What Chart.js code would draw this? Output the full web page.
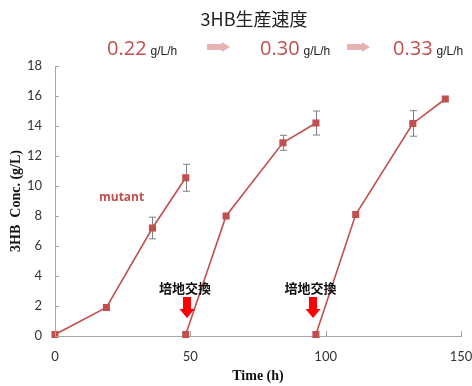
<!DOCTYPE html>
<html>
<head>
<meta charset="utf-8">
<script src="https://cdn.jsdelivr.net/npm/chart.js@4/dist/chart.umd.min.js"></script>
<style>
  html, body { margin: 0; padding: 0; background: #fff; }
  #wrap { width: 472px; height: 386px; }
</style>
</head>
<body>
<div id="wrap"><canvas id="c" width="472" height="386"></canvas></div>
<script>
// first culture
const run1Time = [0, 19, 36, 48.3];
const run1Conc = [0.1, 1.9, 7.2, 10.55];
const run1Err = [0, 0, 0.72, 0.9];
// after first medium exchange
const run2Time = [48.3, 63.2, 84.2, 96.4];
const run2Conc = [0.1, 8.0, 12.88, 14.2];
const run2Err = [0, 0, 0.5, 0.8];
// after second medium exchange
const run3Time = [96.4, 111.1, 132.2, 144.2];
const run3Conc = [0.1, 8.1, 14.17, 15.8];
const run3Err = [0, 0, 0.85, 0];

const rates = ['0.22', '0.30', '0.33'];
const rateUnit = 'g/L/h';
const chartTitle = '3HB生産速度';
const exchangeTimes = [48, 94.4];
const exchangeLabel = '培地交換';

const red = '#c0504d';
const axisGrey = '#a6a6a6';

function pts(xs, ys) { return xs.map((x, i) => ({x: x, y: ys[i]})); }

function lineSet(xs, ys, errs) {
  return {
    data: pts(xs, ys),
    errs: errs,
    showLine: true,
    borderColor: red,
    backgroundColor: red,
    borderWidth: 1.6,
    pointStyle: 'rect',
    pointRadius: 5,
    pointBorderWidth: 0,
    clip: false
  };
}

const errorBars = {
  id: 'errorBars',
  beforeDatasetsDraw(chart) {
    const ctx = chart.ctx, ys = chart.scales.y, xs = chart.scales.x;
    ctx.save();
    ctx.strokeStyle = '#7f7f7f';
    ctx.lineWidth = 1;
    chart.data.datasets.forEach(ds => {
      ds.data.forEach((p, i) => {
        const e = ds.errs[i];
        if (!e) return;
        const x = Math.round(xs.getPixelForValue(p.x)) + 0.5;
        const top = ys.getPixelForValue(p.y + e), bot = ys.getPixelForValue(p.y - e);
        ctx.beginPath();
        ctx.moveTo(x, top); ctx.lineTo(x, bot);
        ctx.moveTo(x - 3.5, top); ctx.lineTo(x + 3.5, top);
        ctx.moveTo(x - 3.5, bot); ctx.lineTo(x + 3.5, bot);
        ctx.stroke();
      });
    });
    ctx.restore();
  }
};

const extras = {
  id: 'extras',
  afterDraw(chart) {
    const ctx = chart.ctx, xs = chart.scales.x, ys = chart.scales.y;
    ctx.save();
    // inner tick marks
    ctx.strokeStyle = axisGrey;
    ctx.lineWidth = 1;
    ctx.beginPath();
    ys.ticks.forEach(t => {
      const y = Math.round(ys.getPixelForValue(t.value)) + 0.5;
      ctx.moveTo(xs.left, y); ctx.lineTo(xs.left + 4, y);
    });
    xs.ticks.forEach(t => {
      const x = Math.round(xs.getPixelForValue(t.value)) + 0.5;
      ctx.moveTo(x, ys.bottom); ctx.lineTo(x, ys.bottom - 5);
    });
    ctx.stroke();

    // header
    ctx.fillStyle = '#222';
    ctx.font = '18px "Noto Sans CJK JP"';
    ctx.textAlign = 'center';
    ctx.textBaseline = 'middle';
    ctx.fillText(chartTitle, 254, 19);

    ctx.textAlign = 'left';
    ctx.textBaseline = 'alphabetic';
    const numX = [107, 260, 393];
    rates.forEach((r, i) => {
      ctx.font = '20px "Open Sans"';
      ctx.fillStyle = red;
      ctx.fillText(r, numX[i], 55);
      const w = ctx.measureText(r).width;
      ctx.font = '12px "Liberation Sans"';
      ctx.fillStyle = '#222';
      ctx.fillText(rateUnit, numX[i] + w + 4, 55);
    });
    ctx.fillStyle = '#e6b3b3';
    [[207, 230], [347, 370]].forEach(([a, b]) => {
      ctx.beginPath();
      ctx.moveTo(a, 44); ctx.lineTo(b - 8, 44); ctx.lineTo(b - 8, 42);
      ctx.lineTo(b, 47); ctx.lineTo(b - 8, 52); ctx.lineTo(b - 8, 50);
      ctx.lineTo(a, 50); ctx.closePath(); ctx.fill();
    });

    // annotations
    ctx.textAlign = 'center';
    ctx.textBaseline = 'middle';
    ctx.font = 'bold 12px "Open Sans"';
    ctx.fillStyle = red;
    ctx.fillText('mutant', xs.getPixelForValue(24.6), ys.getPixelForValue(9.2));
    ctx.font = 'bold 13px "Noto Sans CJK JP"';
    const arrowX = [187, 313];
    exchangeTimes.forEach((t, i) => {
      ctx.fillStyle = '#111';
      ctx.fillText(exchangeLabel, xs.getPixelForValue(t), ys.getPixelForValue(3.2));
      const cx = arrowX[i];
      ctx.fillStyle = '#ff0000';
      ctx.beginPath();
      ctx.moveTo(cx - 4, 297); ctx.lineTo(cx + 4, 297); ctx.lineTo(cx + 4, 309);
      ctx.lineTo(cx + 7.5, 309); ctx.lineTo(cx, 318); ctx.lineTo(cx - 7.5, 309);
      ctx.lineTo(cx - 4, 309); ctx.closePath(); ctx.fill();
    });
    ctx.restore();
  }
};

new Chart(document.getElementById('c'), {
  type: 'scatter',
  data: {
    datasets: [
      lineSet(run1Time, run1Conc, run1Err),
      lineSet(run2Time, run2Conc, run2Err),
      lineSet(run3Time, run3Conc, run3Err)
    ]
  },
  options: {
    responsive: false,
    animation: false,
    layout: { padding: { top: 66, right: 0, left: 0, bottom: 0 } },
    plugins: { legend: { display: false }, tooltip: { enabled: false } },
    scales: {
      x: {
        type: 'linear', min: 0, max: 150,
        afterFit(s) { s.height = 50; s.paddingRight = 11; },
        border: { color: axisGrey, width: 1 },
        grid: { drawOnChartArea: false, drawTicks: false },
        ticks: { stepSize: 50, padding: 13, color: '#333', font: { family: 'Lato', size: 13 } },
        title: { display: true, text: 'Time (h)', color: '#111', padding: { top: 0, bottom: 1 },
                 font: { family: 'Liberation Serif', size: 14, weight: 'bold' } }
      },
      y: {
        min: 0, max: 18,
        afterFit(s) { s.width = 55; },
        border: { color: axisGrey, width: 1 },
        grid: { drawOnChartArea: false, drawTicks: false },
        ticks: { stepSize: 2, padding: 13, color: '#333', font: { family: 'Lato', size: 13 } },
        title: { display: true, text: '3HB  Conc. (g/L)', color: '#111', padding: { top: 8, bottom: 0 },
                 font: { family: 'Liberation Serif', size: 14, weight: 'bold' } }
      }
    }
  },
  plugins: [errorBars, extras]
});
</script>
</body>
</html>
